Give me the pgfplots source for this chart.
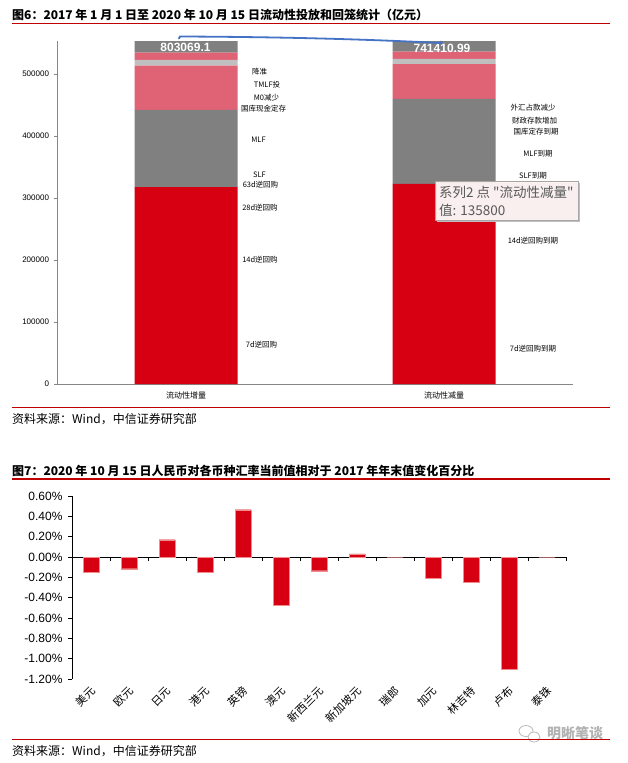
\documentclass[border=0pt]{standalone}
\usepackage{pgfplots}
\pgfplotsset{compat=1.18}
\usepackage{fontspec}
\setmainfont{Liberation Sans}
\newfontfamily\cjk{Noto Sans CJK SC}
\definecolor{zxred}{RGB}{214,0,18}
\definecolor{zxpink}{RGB}{224,98,117}
\definecolor{zxgray}{RGB}{128,128,128}
\definecolor{zxlgray}{RGB}{191,191,191}
\definecolor{ruled}{RGB}{192,0,0}
\definecolor{axgray}{RGB}{134,134,134}
\definecolor{tipblue}{RGB}{68,114,196}
\definecolor{tiptext}{RGB}{89,89,89}
\definecolor{tipbg}{RGB}{253,243,242}

\begin{document}
\begin{tikzpicture}
\fill[white] (0pt,0pt) rectangle (628pt,-763pt);
\path[use as bounding box] (0pt,0pt) rectangle (628pt,-763pt);

% ---- chart 6 title
\node[anchor=west,inner sep=0pt,font=\cjk\bfseries\fontsize{12}{14}\selectfont] at (12pt,-15pt)
  {图6：2017 年 1 月 1 日至 2020 年 10 月 15 日流动性投放和回笼统计（亿元）};
\draw[ruled,line width=1.3pt] (12pt,-23.5pt) -- (610pt,-23.5pt);

% ---- chart 6: stacked bars (亿元), axis cut at 553000
\begin{axis}[
  at={(57pt,-384pt)}, anchor=south west,
  scale only axis, width=516pt, height=343pt,
  xmin=-0.5, xmax=1.5, ymin=0, ymax=553000,
  ybar stacked, bar width=103pt,
  axis x line*=bottom, axis y line*=left,
  axis line style={axgray, line width=0.8pt},
  xtick={0,1}, xticklabels={流动性增量,流动性减量},
  xticklabel style={font=\cjk\fontsize{8}{9}\selectfont, yshift=-1.5pt},
  xtick style={draw=none},
  ytick={0,100000,200000,300000,400000,500000},
  scaled y ticks=false,
  yticklabel style={font=\fontsize{8}{9}\selectfont, /pgf/number format/fixed, /pgf/number format/1000 sep={}, xshift=-2pt},
  /pgf/number format/assume math mode=true,
  ytick style={axgray, line width=0.6pt},
  tick align=outside, major tick length=2.5pt,
]
\addplot[fill=zxred,draw=none] coordinates {(0,317300) (1,322600)};
\addplot[fill=zxgray,draw=none] coordinates {(0,124700) (1,137100)};
\addplot[fill=zxpink,draw=none] coordinates {(0,71400) (1,55900)};
\addplot[fill=zxlgray,draw=none] coordinates {(0,9200) (1,8600)};
\addplot[fill=zxpink,draw=none] coordinates {(0,11800) (1,11800)};
\addplot[fill=zxgray,draw=none] coordinates {(0,268669.1) (1,205410.99)};
\end{axis}

% totals
\node[white,font=\bfseries\fontsize{12}{14}\selectfont] at (185.5pt,-47.3pt) {803069.1};
\node[white,font=\bfseries\fontsize{12}{14}\selectfont] at (442pt,-48.3pt) {741410.99};

% data labels, left bar
\begin{scope}[every node/.style={font=\cjk\fontsize{7.5}{8}\selectfont,inner sep=0pt}]
\node at (259.5pt,-71.7pt) {降准};
\node at (267pt,-85pt) {TMLF投};
\node at (266.5pt,-98pt) {M0减少};
\node at (263.5pt,-108.5pt) {国库现金定存};
\node at (258.5pt,-140pt) {MLF};
\node at (259.5pt,-174.3pt) {SLF};
\node at (260.5pt,-185pt) {63d逆回购};
\node at (260pt,-208pt) {28d逆回购};
\node at (260pt,-260pt) {14d逆回购};
\node at (261.5pt,-345pt) {7d逆回购};
% right bar
\node at (533pt,-107.3pt) {外汇占款减少};
\node at (534.5pt,-121pt) {财政存款增加};
\node at (536pt,-131.7pt) {国库定存到期};
\node at (538pt,-154pt) {MLF到期};
\node at (533pt,-175.7pt) {SLF到期};
\node at (533pt,-203pt) {28d逆回购到期};
\node at (533pt,-241pt) {14d逆回购到期};
\node at (533pt,-348.3pt) {7d逆回购到期};
\end{scope}

% blue connector scribble
\draw[tipblue,line width=1.8pt,line cap=round] (179pt,-38.5pt) -- (180pt,-36.5pt)
  .. controls (300pt,-37pt) and (380pt,-40pt) .. (441pt,-43pt);
\fill[tipblue] (441pt,-42.5pt) circle (1.8pt);

% tooltip
\fill[black!25] (437pt,-183pt) rectangle (580pt,-222pt);
\filldraw[draw=black!35,fill=tipbg,fill opacity=0.93,line width=0.5pt] (435pt,-181pt) rectangle (578pt,-220pt);
\node[anchor=west,inner sep=0pt,text=tiptext,font=\cjk\fontsize{13.5}{15}\selectfont] at (439pt,-192.3pt) {系列2 点 "流动性减量"};
\node[anchor=west,inner sep=0pt,text=tiptext,font=\cjk\fontsize{13.5}{15}\selectfont] at (439pt,-210pt) {值: 135800};

% source 1
\draw[ruled,line width=1.3pt] (12pt,-407.3pt) -- (610pt,-407.3pt);
\node[anchor=west,inner sep=0pt,font=\cjk\fontsize{12}{14}\selectfont] at (12pt,-419.3pt) {资料来源：Wind，中信证券研究部};

% ---- chart 7 title
\node[anchor=west,inner sep=0pt,font=\cjk\bfseries\fontsize{12}{14}\selectfont] at (12pt,-470.7pt)
  {图7：2020 年 10 月 15 日人民币对各币种汇率当前值相对于 2017 年年末值变化百分比};
\draw[ruled,line width=1.3pt] (12pt,-479pt) -- (610pt,-479pt);

% ---- chart 7: change in % vs end of 2017
\begin{axis}[
  at={(72pt,-679pt)}, anchor=south west,
  scale only axis, width=494pt, height=183pt,
  xmin=-0.5, xmax=12.5, ymin=-1.2, ymax=0.6,
  ybar, bar width=16pt,
  axis x line*=middle, axis y line*=left,
  hide obscured x ticks=false, hide obscured y ticks=false,
  axis line style={black, line width=0.8pt},
  xtick={0,...,12},
  xticklabels={美元,欧元,日元,港元,英镑,澳元,新西兰元,新加坡元,瑞郎,加元,林吉特,卢布,泰铢},
  xticklabel style={font=\cjk\fontsize{11}{12}\selectfont, yshift=-128pt, xshift=2pt, rotate=45, anchor=east, inner sep=0pt},
  every major x tick/.append style={draw=none},
  minor xtick={-0.5,0.5,...,12.5},
  minor tick length=4pt,
  ytick={-1.2,-1.0,-0.8,-0.6,-0.4,-0.2,0,0.2,0.4,0.6},
  yticklabel={\pgfmathprintnumber[fixed,fixed zerofill,precision=2]{\tick}\%},
  yticklabel style={font=\fontsize{12}{14}\selectfont, xshift=-2pt},
  /pgf/number format/assume math mode=true,
  tick align=outside, major tick length=4pt,
  tick style={black, line width=0.6pt},
]
\addplot[fill=zxred, draw={rgb,255:red,240;green,140;blue,140}, line width=0.4pt] coordinates {
  (0,-0.145) (1,-0.115) (2,0.170) (3,-0.145) (4,0.465) (5,-0.475) (6,-0.135)
  (7,0.032) (8,0) (9,-0.206) (10,-0.252) (11,-1.104) (12,0)};
\end{axis}

% watermark
\draw[gray!55,line width=0.8pt] (526pt,-731pt) ellipse (7pt and 5.5pt);
\draw[gray!55,line width=0.8pt,fill=white] (534pt,-737pt) ellipse (6pt and 5pt);
\node[anchor=west,inner sep=0pt,text=gray!60,font=\cjk\bfseries\fontsize{14}{16}\selectfont] at (547pt,-733pt) {明晰笔谈};

% source 2
\draw[ruled,line width=1.3pt] (12pt,-739.3pt) -- (610pt,-739.3pt);
\node[anchor=west,inner sep=0pt,font=\cjk\fontsize{12}{14}\selectfont] at (12pt,-751pt) {资料来源：Wind，中信证券研究部};
\end{tikzpicture}
\end{document}
